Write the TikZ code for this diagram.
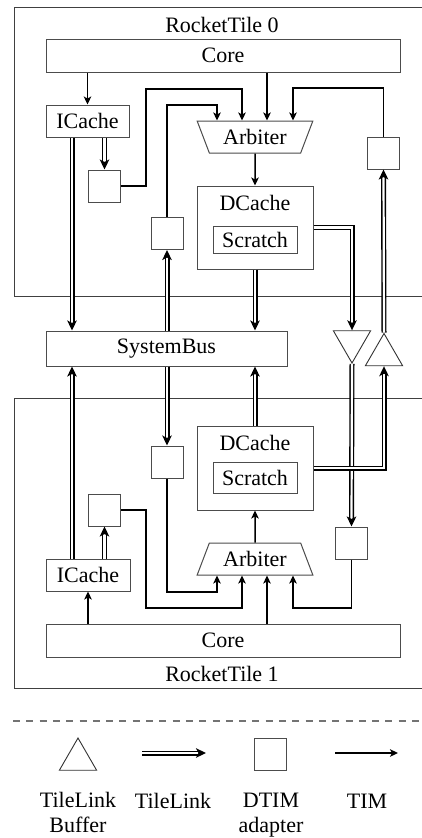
\documentclass[tikz,border=0pt]{standalone}
\usepackage{fontspec}
\setmainfont{Liberation Serif}
\usetikzlibrary{arrows.meta,shapes.geometric}

\tikzset{
  box/.style={draw=black!70, line width=1pt, inner sep=0pt, fill=white},
  tilebox/.style={draw=black!75, line width=1pt},
  adapter/.style={box, minimum width=32pt, minimum height=32pt},
  buffer/.style={draw=black!80, line width=0.9pt, regular polygon, regular polygon sides=3,
                 minimum size=43pt, inner sep=0pt, fill=white},
  arbiter/.style={box, trapezium, trapezium angle=61.3, trapezium stretches=true,
                  minimum width=116pt, minimum height=32pt},
  tim/.style={draw=black, line width=1.5pt, -{Stealth[length=8pt,width=7.5pt,inset=2pt]}},
  tl/.style={draw=black, line width=1.4pt, double=white, double distance=2.2pt,
             -{Stealth[length=10pt,width=9.5pt,inset=2.5pt]}},
  txt/.style={inner sep=0pt, align=center},
  legtxt/.style={txt, anchor=base},
}

\begin{document}
\begin{tikzpicture}[x=1pt, y=-1pt, font=\fontsize{22}{25}\selectfont]
\useasboundingbox (0,0) rectangle (422,838);

% ---------- tile outlines ----------
\draw[tilebox] (14,7) rectangle (440,296);
\draw[tilebox] (14,398) rectangle (440,688);
\node[txt] (t0lbl) at (222,25) {RocketTile 0};
\node[txt] (t1lbl) at (222,674) {RocketTile 1};

% ---------- tile 0 ----------
\node[box, minimum width=354pt, minimum height=33pt] (core0) at (223,55.5) {Core};
\node[box, minimum width=83pt, minimum height=32pt] (icache0) at (87.5,121) {ICache};
\node[adapter] (sq0a) at (104.5,186) {};
\node[arbiter, shape border rotate=180] (arb0) at (255,137) {Arbiter};
\node[box, minimum width=116pt, minimum height=83pt] (dcache0) at (255,227.5) {};
\node[txt] (dct0) at (255,203) {DCache};
\node[box, minimum width=84pt, minimum height=27pt] (scratch0) at (255,240) {Scratch};
\node[adapter] (sq0b) at (167,233.5) {};
\node[adapter] (sq0c) at (383.5,153) {};

% ---------- shared ----------
\node[box, minimum width=241pt, minimum height=35pt] (sysbus) at (166.5,348.5) {SystemBus};
\node[buffer, shape border rotate=180] (tridn) at (352,341.5) {};
\node[buffer] (triup) at (384,355) {};

% ---------- tile 1 ----------
\node[box, minimum width=116pt, minimum height=84pt] (dcache1) at (255,468) {};
\node[txt] (dct1) at (255,443) {DCache};
\node[box, minimum width=84pt, minimum height=31pt] (scratch1) at (255,478) {Scratch};
\node[adapter] (sq1b) at (167,462) {};
\node[adapter] (sq1a) at (104.5,510) {};
\node[adapter] (sq1c) at (351.5,543) {};
\node[arbiter] (arb1) at (255,559) {Arbiter};
\node[box, minimum width=84pt, minimum height=32pt] (icache1) at (88,575) {ICache};
\node[box, minimum width=354pt, minimum height=33pt] (core1) at (223,640.5) {Core};

% ---------- arbiter ports and routing points ----------
\coordinate (a0i1) at ([xshift=-38pt]arb0.north);
\coordinate (a0i2) at ([xshift=-13pt]arb0.north);
\coordinate (a0i3) at ([xshift=12pt]arb0.north);
\coordinate (a0i4) at ([xshift=38pt]arb0.north);
\coordinate (a1i1) at ([xshift=-38pt]arb1.south);
\coordinate (a1i2) at ([xshift=-13pt]arb1.south);
\coordinate (a1i3) at ([xshift=12pt]arb1.south);
\coordinate (a1i4) at ([xshift=38pt]arb1.south);
\coordinate (k0a) at (146,89);
\coordinate (k0b) at (0,105);
\coordinate (k0c) at (0,88);
\coordinate (k1a) at (146,608);
\coordinate (k1b) at (0,592);
\coordinate (k1c) at (0,608);
\coordinate (ic0L) at ([xshift=-15.5pt]icache0.south);
\coordinate (ic1L) at ([xshift=-16pt]icache1.north);

% ---------- TIM links, tile 0 ----------
\draw[tim] (icache0.north |- core0.south) -- (icache0.north);
\draw[tim] (a0i3 |- core0.south) -- (a0i3);
\draw[tim] (sq0a.east) -| (k0a) -- (a0i2 |- k0a) -- (a0i2);
\draw[tim] (sq0b.north) |- (a0i1 |- k0b) -- (a0i1);
\draw[tim] (sq0c.north) |- (a0i4 |- k0c) -- (a0i4);
\draw[tim] (arb0.south) -- (dcache0.north);

% ---------- TIM links, tile 1 ----------
\draw[tim] (icache1.south |- core1.north) -- (icache1.south);
\draw[tim] (a1i3 |- core1.north) -- (a1i3);
\draw[tim] (sq1a.east) -| (k1a) -- (a1i2 |- k1a) -- (a1i2);
\draw[tim] (sq1b.south) |- (a1i1 |- k1b) -- (a1i1);
\draw[tim] (sq1c.south) |- (a1i4 |- k1c) -- (a1i4);
\draw[tim] (arb1.north) -- (dcache1.south);

% ---------- TileLink ----------
\draw[tl] (sq0a.north |- icache0.south) -- (sq0a.north);
\draw[tl] (ic0L) -- (ic0L |- sysbus.north);
\draw[tl] (dcache0.south) -- (dcache0.south |- sysbus.north);
\draw[tl] (sq0b.south |- sysbus.north) -- (sq0b.south);
\draw[tl] (dcache0.east) -| (tridn.north);
\draw[tl] (triup.north) -- (sq0c.south);
\draw[tl] (tridn.south) -- (sq1c.north);
\draw[tl] (dcache1.east) -| (triup.south);
\draw[tl] (sq1b.north |- sysbus.south) -- (sq1b.north);
\draw[tl] (ic1L) -- (ic1L |- sysbus.south);
\draw[tl] (dcache1.north) -- (dcache1.north |- sysbus.south);
\draw[tl] (sq1a.south |- icache1.north) -- (sq1a.south);

% ---------- legend ----------
\draw[draw=black!55, line width=1.3pt, dash pattern=on 7pt off 6.3pt] (13,721) -- (430,721);
\node[buffer] (lgbuf) at (78,759.5) {};
\coordinate (lgA) at (142,753);
\coordinate (lgB) at (206,753);
\draw[tl] (lgA) -- (lgB);
\node[adapter] (lgsq) at (270.5,754) {};
\coordinate (lgC) at (335,753);
\coordinate (lgD) at (398,753);
\draw[tim] (lgC) -- (lgD);
% two-line labels sit on the baseline of their last line
\node[legtxt] (lt1) at (78,832) {TileLink\\Buffer};
\node[legtxt] (lt2) at (173,808) {TileLink};
\node[legtxt] (lt3) at (271,832) {DTIM\\adapter};
\node[legtxt] (lt4) at (367,808) {TIM};
\end{tikzpicture}
\end{document}
